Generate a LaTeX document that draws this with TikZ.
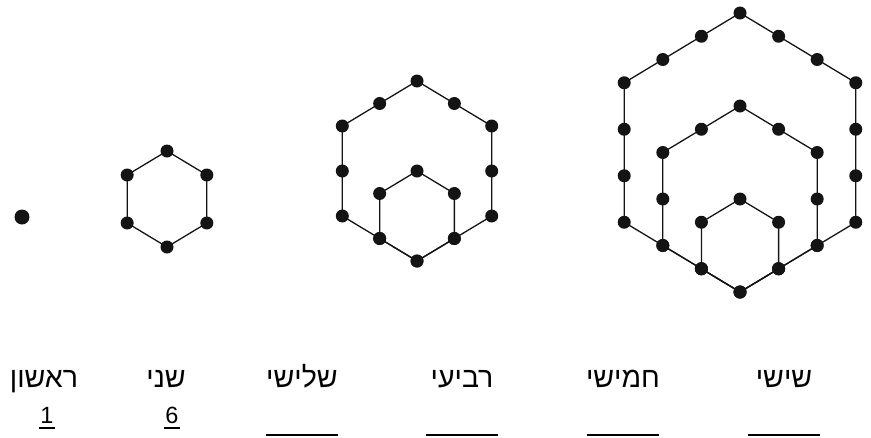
\documentclass[tikz,border=0pt]{standalone}
\usepackage{fontspec}
\setmainfont{Liberation Sans}
\newfontfamily\hebfont[Script=Hebrew]{Liberation Sans}
\TeXXeTstate=1
\usepackage{tikz}
\usetikzlibrary{positioning}
\definecolor{DotInk}{gray}{0.08}
\definecolor{LabelInk}{gray}{0.0}
\newcommand{\HebWord}[1]{{\hebfont\beginR #1\endR}}

\begin{document}
\begin{tikzpicture}[
  x=1pt,y=-1pt,
  edge/.style={DotInk,line width=1.3pt,line join=round},
  dot/.style={fill=DotInk},
  word/.style={font=\fontsize{28.5}{32}\selectfont,text=LabelInk,anchor=base,inner sep=0pt},
  count/.style={font=\fontsize{23.5}{27}\selectfont,text=LabelInk,anchor=base,inner sep=0pt},
  blank/.style={LabelInk,line width=2pt},
]
  \useasboundingbox (0,0) rectangle (871,437);

  % first figure: one dot
  \fill[dot] (22,217) circle[radius=7.5];

  % nested hexagons, all sharing the bottom corner
  \foreach \bx/\by/\unit/\last in {167/247/48/1, 417/261/45/2, 740/292/46.5/3}{
    \foreach \n in {1,...,\last}{
      \pgfmathsetmacro{\h}{0.83*\unit*\n}
      \pgfmathsetmacro{\v}{\unit*\n}
      \pgfmathtruncatemacro{\m}{\n-1}
      \draw[edge] (\bx,\by) -- ++(\h,-0.5*\v) -- ++(0,-\v) -- ++(-\h,-0.5*\v)
        -- ++(-\h,0.5*\v) -- ++(0,\v) -- cycle;
      \foreach \ax/\ay/\ex/\ey in {0/0/1/-0.5, 1/-0.5/1/-1.5, 1/-1.5/0/-2,
                                  0/-2/-1/-1.5, -1/-1.5/-1/-0.5, -1/-0.5/0/0}
        \foreach \j in {0,...,\m}
          \fill[dot] ({\bx+((\ax)+((\ex)-(\ax))*\j/\n)*\h},
                      {\by+((\ay)+((\ey)-(\ay))*\j/\n)*\v}) circle[radius=6.5];
    }
  }

  % ordinal labels
  \foreach \name/\x/\word in {first/44/ראשון, second/166/שני, third/302/שלישי,
                              fourth/462/רביעי, fifth/623/חמישי, sixth/784/שישי}
    \node[word] (\name) at (\x,387) {\HebWord{\word}};

  \node[count] (firstcount) at (47,423) {1};
  \node[count] (secondcount) at (172,423) {6};
  \foreach \name in {firstcount,secondcount}
    \draw[blank] ([xshift=-1.5pt,yshift=-5pt]\name.base west)
      -- ([xshift=1.5pt,yshift=-5pt]\name.base east);

  % blanks to fill in
  \foreach \name in {third,fourth,fifth,sixth}
    \draw[blank] (\name.base) ++(-36,48) -- ++(72,0);
\end{tikzpicture}
\end{document}
